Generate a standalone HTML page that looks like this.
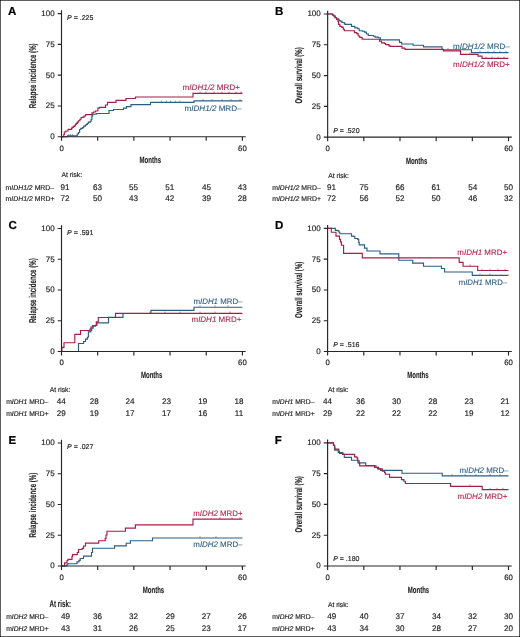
<!DOCTYPE html><html><head><meta charset="utf-8"><style>html,body{margin:0;padding:0;background:#fff;}svg{display:block;will-change:transform;}text{font-family:"Liberation Sans",sans-serif;fill:#222;stroke:#222;stroke-width:0.16;text-rendering:geometricPrecision;}.it{font-style:italic;}</style></head><body>
<svg width="520" height="637" viewBox="0 0 520 637">
<rect x="0" y="0" width="520" height="637" fill="#fff"/>
<g><path d="M61.5 136.75H67.5V135.9H77.3V134H78.5V132.5H79.6V129.5H80.8V128.4H82.5V127.6H83.7V126.1H85.4V125H86.5V124.4H87.4V123.5H88.3V122.1H90.4V121.2H91.2V119.2H91.9V115.8H92.7V114.2H96.2V113.5H109V110.5H113.5V109.5H123.5V108.1H126.5V106.6H131V104.6H150.5V102.4H194V100.9H242.4" fill="none" stroke="#2c5d85" stroke-width="1.15" stroke-linejoin="miter"/><path d="M68.7 135.9v-1.8M70.6 135.9v-1.8M72.4 135.9v-1.8M161.3 102.4v-1.8M166.5 102.4v-1.8M170.6 102.4v-1.8M175.2 102.4v-1.8M179.8 102.4v-1.8M203 100.9v-1.8M212 100.9v-1.8M222 100.9v-1.8M231 100.9v-1.8M240 100.9v-1.8" stroke="#2c5d85" stroke-width="0.6" fill="none"/><path d="M61.5 136.75H63.8V134.5H64.3V132H65.8V131H68V129.3H71.5V128.4H72.1V127.3H73.3V126.4H74.4V125.8H75.3V124.4H76.2V123.3H77.3V122.1H78.5V120.7H79.9V119.2H81.1V117.5H83.1V116.9H84.2V116H85.7V114.6H92V112.9H93.5V112H95.4V111H97.9V108.1H99.3V107.3H105.5V105H107.5V102.3H116V100.4H126V98.5H135.5V97H193V93.3H242.4" fill="none" stroke="#a51e46" stroke-width="1.15" stroke-linejoin="miter"/><path d="M200 93.3v-1.8M206 93.3v-1.8M214 93.3v-1.8M222 93.3v-1.8M229 93.3v-1.8M236 93.3v-1.8M241 93.3v-1.8" stroke="#a51e46" stroke-width="0.6" fill="none"/><path d="M61.5 10.25V140.75M61 136.75H245.7M57.7 13.55H61.5M57.7 44.35H61.5M57.7 75.15H61.5M57.7 105.95H61.5M57.7 136.75H61.5M97.68 136.75V140.75M133.86 136.75V140.75M170.04 136.75V140.75M206.22 136.75V140.75M242.4 136.75V140.75" stroke="#262626" stroke-width="1.15" fill="none"/><text x="54.6" y="16" font-size="8.0" text-anchor="end">100</text><text x="54.6" y="46.8" font-size="8.0" text-anchor="end">75</text><text x="54.6" y="77.6" font-size="8.0" text-anchor="end">50</text><text x="54.6" y="108.4" font-size="8.0" text-anchor="end">25</text><text x="54.6" y="139.2" font-size="8.0" text-anchor="end">0</text><text x="61.6" y="150.65" font-size="7.8" text-anchor="middle">0</text><text x="242.4" y="150.7" font-size="7.8" text-anchor="middle">60</text><text x="150.3" y="163.25" font-size="9.1" font-weight="bold" text-anchor="middle" textLength="21.4" lengthAdjust="spacingAndGlyphs" style="stroke-width:0.12">Months</text><text transform="translate(35.6 75.8) rotate(-90)" x="0" y="0" font-size="9.9" font-weight="bold" text-anchor="middle" textLength="64.9" lengthAdjust="spacingAndGlyphs" style="stroke-width:0.12">Relapse incidence (%)</text><text x="67.1" y="19.55" font-size="7.0"><tspan class="it">P</tspan> = .225</text><text x="8.1" y="14.8" font-size="11.5" font-weight="bold" style="fill:#000;stroke:#000;stroke-width:0.2">A</text><text x="182.6" y="90.4" font-size="8.0" textLength="57.45" lengthAdjust="spacingAndGlyphs" style="fill:#b02449;stroke:#b02449;stroke-width:0.1">m<tspan class="it">IDH1/2</tspan> MRD+</text><text x="184.5" y="111.4" font-size="8.0" textLength="57.05" lengthAdjust="spacingAndGlyphs" style="fill:#2c5d85;stroke:#2c5d85;stroke-width:0.1">m<tspan class="it">IDH1/2</tspan> MRD–</text><text x="61.5" y="177.4" font-size="6.9" textLength="20.6" lengthAdjust="spacingAndGlyphs">At risk:</text><text x="5.55" y="189.8" font-size="6.9" textLength="48.6" lengthAdjust="spacingAndGlyphs">m<tspan class="it">IDH1/2</tspan> MRD–</text><text x="5.55" y="201.3" font-size="6.9" textLength="48.9" lengthAdjust="spacingAndGlyphs">m<tspan class="it">IDH1/2</tspan> MRD+</text><text x="65.1" y="189.8" font-size="8.1" text-anchor="middle">91</text><text x="65.1" y="201.3" font-size="8.1" text-anchor="middle">72</text><text x="97.6" y="189.8" font-size="8.1" text-anchor="middle">63</text><text x="97.6" y="201.3" font-size="8.1" text-anchor="middle">50</text><text x="133.6" y="189.8" font-size="8.1" text-anchor="middle">55</text><text x="133.6" y="201.3" font-size="8.1" text-anchor="middle">43</text><text x="169.7" y="189.8" font-size="8.1" text-anchor="middle">51</text><text x="169.7" y="201.3" font-size="8.1" text-anchor="middle">42</text><text x="206.5" y="189.8" font-size="8.1" text-anchor="middle">45</text><text x="206.5" y="201.3" font-size="8.1" text-anchor="middle">39</text><text x="242.3" y="189.8" font-size="8.1" text-anchor="middle">43</text><text x="242.3" y="201.3" font-size="8.1" text-anchor="middle">28</text></g>
<g><path d="M327.65 13.95H332.5V15H333.7V16H335.1V17.7H336.6V19.1H339V20.5H340V21.1H341.9V22.5H344.3V23.9H345.2V24.4H351.5V26.3H354.8V27.8H357.7V28.75H359.2V30.7H362.5V31.2H364.5V32.1H366.4V34H368.3V35.5H373.5V36.2H375.2V37.1H378.1V37.7H380.4V39.8H399.5V42.3H401.7V44H413V45.2H423.5V46.9H442V49.7H471.5V52.6H508.5" fill="none" stroke="#2c5d85" stroke-width="1.15" stroke-linejoin="miter"/><path d="M448 49.7v-1.8M456 49.7v-1.8M480 52.6v-1.8M488 52.6v-1.8M494 52.6v-1.8M500 52.6v-1.8M506 52.6v-1.8" stroke="#2c5d85" stroke-width="0.6" fill="none"/><path d="M327.65 13.95H332.5V15H333.7V16H335.1V17.7H336.6V19.1H338V21.5H338.5V24.4H339.9V26.3H341.9V27.3H343.3V29.2H344.3V30.7H354.5V32.6H356.8V33.6H358.2V36H359.7V37.4H362.1V38.8H363V39.2H379.5V41.2H381.5V42.9H384.4V43.5H385.6V44.6H389V45.8H390.2V46.3H402V48.1H404.6V48.7H405.2V49.4H443.5V50.9H460.5V54.4H478V56.1H482V58.4H508.5" fill="none" stroke="#a51e46" stroke-width="1.15" stroke-linejoin="miter"/><path d="M470 54.4v-1.8M486 58.4v-1.8M492 58.4v-1.8M498 58.4v-1.8M504 58.4v-1.8" stroke="#a51e46" stroke-width="0.6" fill="none"/><path d="M327.65 10.65V141.15M327.15 137.15H511.8M323.85 13.95H327.65M323.85 44.75H327.65M323.85 75.55H327.65M323.85 106.35H327.65M323.85 137.15H327.65M363.82 137.15V141.15M399.99 137.15V141.15M436.16 137.15V141.15M472.33 137.15V141.15M508.5 137.15V141.15" stroke="#262626" stroke-width="1.15" fill="none"/><text x="320.75" y="16.4" font-size="8.0" text-anchor="end">100</text><text x="320.75" y="47.2" font-size="8.0" text-anchor="end">75</text><text x="320.75" y="78" font-size="8.0" text-anchor="end">50</text><text x="320.75" y="108.8" font-size="8.0" text-anchor="end">25</text><text x="320.75" y="139.6" font-size="8.0" text-anchor="end">0</text><text x="327.75" y="151.05" font-size="7.8" text-anchor="middle">0</text><text x="508.5" y="151.1" font-size="7.8" text-anchor="middle">60</text><text x="416.6" y="163.65" font-size="9.1" font-weight="bold" text-anchor="middle" textLength="21.4" lengthAdjust="spacingAndGlyphs" style="stroke-width:0.12">Months</text><text transform="translate(302.3 75.45) rotate(-90)" x="0" y="0" font-size="9.9" font-weight="bold" text-anchor="middle" textLength="56.3" lengthAdjust="spacingAndGlyphs" style="stroke-width:0.12">Overall survival (%)</text><text x="333.25" y="132.55" font-size="7.0"><tspan class="it">P</tspan> = .520</text><text x="274.9" y="14.9" font-size="11.5" font-weight="bold" style="fill:#000;stroke:#000;stroke-width:0.2">B</text><text x="453.1" y="48.5" font-size="8.0" textLength="56.7" lengthAdjust="spacingAndGlyphs" style="fill:#2c5d85;stroke:#2c5d85;stroke-width:0.1">m<tspan class="it">IDH1/2</tspan> MRD–</text><text x="453.1" y="67.4" font-size="8.0" textLength="56.7" lengthAdjust="spacingAndGlyphs" style="fill:#b02449;stroke:#b02449;stroke-width:0.1">m<tspan class="it">IDH1/2</tspan> MRD+</text><text x="328.2" y="177.5" font-size="6.9" textLength="20.6" lengthAdjust="spacingAndGlyphs">At risk:</text><text x="272.15" y="189.9" font-size="6.9" textLength="48.6" lengthAdjust="spacingAndGlyphs">m<tspan class="it">IDH1/2</tspan> MRD–</text><text x="272.15" y="201.4" font-size="6.9" textLength="48.9" lengthAdjust="spacingAndGlyphs">m<tspan class="it">IDH1/2</tspan> MRD+</text><text x="331.4" y="189.9" font-size="8.1" text-anchor="middle">91</text><text x="331.4" y="201.4" font-size="8.1" text-anchor="middle">72</text><text x="363.9" y="189.9" font-size="8.1" text-anchor="middle">75</text><text x="363.9" y="201.4" font-size="8.1" text-anchor="middle">56</text><text x="399.9" y="189.9" font-size="8.1" text-anchor="middle">66</text><text x="399.9" y="201.4" font-size="8.1" text-anchor="middle">52</text><text x="436" y="189.9" font-size="8.1" text-anchor="middle">61</text><text x="436" y="201.4" font-size="8.1" text-anchor="middle">50</text><text x="472.8" y="189.9" font-size="8.1" text-anchor="middle">54</text><text x="472.8" y="201.4" font-size="8.1" text-anchor="middle">46</text><text x="508.6" y="189.9" font-size="8.1" text-anchor="middle">50</text><text x="508.6" y="201.4" font-size="8.1" text-anchor="middle">32</text></g>
<g><path d="M61.5 351.5H78.5V343.5H83.6V341.5H85.5V339.1H87.4V337.2H88.4V331.9H90.8V330.5H91.7V328.1H93.2V326.2H95.6V325.2H97V322.8H108.5V317.3H123V313.5H151V310.4H194V307.2H242.4" fill="none" stroke="#2c5d85" stroke-width="1.15" stroke-linejoin="miter"/><path d="M200 307.2v-1.8M215 307.2v-1.8M228 307.2v-1.8" stroke="#2c5d85" stroke-width="0.6" fill="none"/><path d="M61.5 351.5H61.9V347.3H64V342.7H74.8V334.3H80.5V330.5H90V329H91V327H92.7V325.5H96.3V321.8H98.3V317.5H115.5V313.3H242.4" fill="none" stroke="#a51e46" stroke-width="1.15" stroke-linejoin="miter"/><path d="M150 313.3v-1.8M165 313.3v-1.8M180 313.3v-1.8M200 313.3v-1.8M215 313.3v-1.8M230 313.3v-1.8" stroke="#a51e46" stroke-width="0.6" fill="none"/><path d="M61.5 225.2V355.5M61 351.5H245.7M57.7 228.5H61.5M57.7 259.25H61.5M57.7 290H61.5M57.7 320.75H61.5M57.7 351.5H61.5M97.68 351.5V355.5M133.86 351.5V355.5M170.04 351.5V355.5M206.22 351.5V355.5M242.4 351.5V355.5" stroke="#262626" stroke-width="1.15" fill="none"/><text x="54.6" y="230.95" font-size="8.0" text-anchor="end">100</text><text x="54.6" y="261.7" font-size="8.0" text-anchor="end">75</text><text x="54.6" y="292.45" font-size="8.0" text-anchor="end">50</text><text x="54.6" y="323.2" font-size="8.0" text-anchor="end">25</text><text x="54.6" y="353.95" font-size="8.0" text-anchor="end">0</text><text x="61.6" y="365.4" font-size="7.8" text-anchor="middle">0</text><text x="242.4" y="365.45" font-size="7.8" text-anchor="middle">60</text><text x="151.7" y="378" font-size="9.1" font-weight="bold" text-anchor="middle" textLength="21.4" lengthAdjust="spacingAndGlyphs" style="stroke-width:0.12">Months</text><text transform="translate(35.6 290.65) rotate(-90)" x="0" y="0" font-size="9.9" font-weight="bold" text-anchor="middle" textLength="64.9" lengthAdjust="spacingAndGlyphs" style="stroke-width:0.12">Relapse incidence (%)</text><text x="67.1" y="234.5" font-size="7.0"><tspan class="it">P</tspan> = .591</text><text x="8.6" y="229.1" font-size="11.5" font-weight="bold" style="fill:#000;stroke:#000;stroke-width:0.2">C</text><text x="193.5" y="304.1" font-size="8.0" textLength="49" lengthAdjust="spacingAndGlyphs" style="fill:#2c5d85;stroke:#2c5d85;stroke-width:0.1">m<tspan class="it">IDH1</tspan> MRD–</text><text x="191.5" y="322.1" font-size="8.0" textLength="49.9" lengthAdjust="spacingAndGlyphs" style="fill:#b02449;stroke:#b02449;stroke-width:0.1">m<tspan class="it">IDH1</tspan> MRD+</text><text x="49.7" y="391.8" font-size="6.9" textLength="20.6" lengthAdjust="spacingAndGlyphs">At risk:</text><text x="6.15" y="404" font-size="6.9" textLength="42.2" lengthAdjust="spacingAndGlyphs">m<tspan class="it">IDH1</tspan> MRD–</text><text x="6.15" y="415.9" font-size="6.9" textLength="42.5" lengthAdjust="spacingAndGlyphs">m<tspan class="it">IDH1</tspan> MRD+</text><text x="61.25" y="404" font-size="8.1" text-anchor="middle">44</text><text x="61.25" y="415.9" font-size="8.1" text-anchor="middle">29</text><text x="94.2" y="404" font-size="8.1" text-anchor="middle">28</text><text x="94.2" y="415.9" font-size="8.1" text-anchor="middle">19</text><text x="130" y="404" font-size="8.1" text-anchor="middle">24</text><text x="130" y="415.9" font-size="8.1" text-anchor="middle">17</text><text x="166.5" y="404" font-size="8.1" text-anchor="middle">23</text><text x="166.5" y="415.9" font-size="8.1" text-anchor="middle">17</text><text x="202.7" y="404" font-size="8.1" text-anchor="middle">19</text><text x="202.7" y="415.9" font-size="8.1" text-anchor="middle">16</text><text x="239" y="404" font-size="8.1" text-anchor="middle">18</text><text x="239" y="415.9" font-size="8.1" text-anchor="middle">11</text></g>
<g><path d="M327.6 228.4H335.3V230.3H338V230.8H339V232.2H339.9V233.7H351.5V236.1H353.9V236.5H354.8V238.5H357.7V239.4H358.7V242.3H359.2V244.8H364.5V248.1H367V251H380V253.9H398.8V260.2H412.7V263.1H423.5V266.2H441.5V268.5H444.6V272H472.3V275.4H508.5" fill="none" stroke="#2c5d85" stroke-width="1.15" stroke-linejoin="miter"/><path d="M480 275.4v-1.8M490 275.4v-1.8" stroke="#2c5d85" stroke-width="0.6" fill="none"/><path d="M327.6 228.4H331.3V232.2H336V236.1H339.5V239.4H340.4V241.8H341.4V245.2H343.6V253.4H362.3V257.9H459.2V262.3H463.1V266.2H477.7V270.5H508.5" fill="none" stroke="#a51e46" stroke-width="1.15" stroke-linejoin="miter"/><path d="M470 266.2v-1.8M482 270.5v-1.8M490 270.5v-1.8M498 270.5v-1.8M505 270.5v-1.8" stroke="#a51e46" stroke-width="0.6" fill="none"/><path d="M327.6 225.1V355.5M327.1 351.5H511.8M323.8 228.4H327.6M323.8 259.18H327.6M323.8 289.95H327.6M323.8 320.73H327.6M323.8 351.5H327.6M363.78 351.5V355.5M399.96 351.5V355.5M436.14 351.5V355.5M472.32 351.5V355.5M508.5 351.5V355.5" stroke="#262626" stroke-width="1.15" fill="none"/><text x="320.7" y="230.85" font-size="8.0" text-anchor="end">100</text><text x="320.7" y="261.62" font-size="8.0" text-anchor="end">75</text><text x="320.7" y="292.4" font-size="8.0" text-anchor="end">50</text><text x="320.7" y="323.18" font-size="8.0" text-anchor="end">25</text><text x="320.7" y="353.95" font-size="8.0" text-anchor="end">0</text><text x="327.7" y="365.4" font-size="7.8" text-anchor="middle">0</text><text x="508.5" y="365.45" font-size="7.8" text-anchor="middle">60</text><text x="417.9" y="378" font-size="9.1" font-weight="bold" text-anchor="middle" textLength="21.4" lengthAdjust="spacingAndGlyphs" style="stroke-width:0.12">Months</text><text transform="translate(302.3 289.85) rotate(-90)" x="0" y="0" font-size="9.9" font-weight="bold" text-anchor="middle" textLength="56.3" lengthAdjust="spacingAndGlyphs" style="stroke-width:0.12">Overall survival (%)</text><text x="333.2" y="346.9" font-size="7.0"><tspan class="it">P</tspan> = .516</text><text x="274.9" y="229.4" font-size="11.5" font-weight="bold" style="fill:#000;stroke:#000;stroke-width:0.2">D</text><text x="457.3" y="254.8" font-size="8.0" textLength="49.8" lengthAdjust="spacingAndGlyphs" style="fill:#b02449;stroke:#b02449;stroke-width:0.1">m<tspan class="it">IDH1</tspan> MRD+</text><text x="458.7" y="285.1" font-size="8.0" textLength="48.4" lengthAdjust="spacingAndGlyphs" style="fill:#2c5d85;stroke:#2c5d85;stroke-width:0.1">m<tspan class="it">IDH1</tspan> MRD–</text><text x="327.9" y="392.2" font-size="6.9" textLength="20.6" lengthAdjust="spacingAndGlyphs">At risk:</text><text x="272.25" y="404.3" font-size="6.9" textLength="42.2" lengthAdjust="spacingAndGlyphs">m<tspan class="it">IDH1</tspan> MRD–</text><text x="272.25" y="416.3" font-size="6.9" textLength="42.5" lengthAdjust="spacingAndGlyphs">m<tspan class="it">IDH1</tspan> MRD+</text><text x="327.6" y="404.3" font-size="8.1" text-anchor="middle">44</text><text x="327.6" y="416.3" font-size="8.1" text-anchor="middle">29</text><text x="360.6" y="404.3" font-size="8.1" text-anchor="middle">36</text><text x="360.6" y="416.3" font-size="8.1" text-anchor="middle">22</text><text x="396.4" y="404.3" font-size="8.1" text-anchor="middle">30</text><text x="396.4" y="416.3" font-size="8.1" text-anchor="middle">22</text><text x="432.7" y="404.3" font-size="8.1" text-anchor="middle">28</text><text x="432.7" y="416.3" font-size="8.1" text-anchor="middle">22</text><text x="469" y="404.3" font-size="8.1" text-anchor="middle">23</text><text x="469" y="416.3" font-size="8.1" text-anchor="middle">19</text><text x="505.1" y="404.3" font-size="8.1" text-anchor="middle">21</text><text x="505.1" y="416.3" font-size="8.1" text-anchor="middle">12</text></g>
<g><path d="M61.5 566H66.5V565H67.7V563.75H77V561.8H79V560.4H80.2V558.5H83.5V556.1H91.5V552.5H92.5V548.2H114.6V545.8H126.2V543.2H130.4V540.7H152.5V538H242.4" fill="none" stroke="#2c5d85" stroke-width="1.15" stroke-linejoin="miter"/><path d="M200 538v-1.8M216 538v-1.8" stroke="#2c5d85" stroke-width="0.6" fill="none"/><path d="M61.5 566H64.5V562.8H67V560.5H68V559.4H72V556.5H72.5V554.6H77.3V552.5H78.5V549.5H82.1V548.4H83.6V546H85.5V543.1H98.7V540.7H105.2V538.5H106V535H107V531.2H125.4V528.1H135.4V524.9H193V519.1H242.4" fill="none" stroke="#a51e46" stroke-width="1.15" stroke-linejoin="miter"/><path d="M220 519.1v-1.8M232 519.1v-1.8M240 519.1v-1.8" stroke="#a51e46" stroke-width="0.6" fill="none"/><path d="M61.5 439.65V570M61 566H245.7M57.7 442.95H61.5M57.7 473.71H61.5M57.7 504.48H61.5M57.7 535.24H61.5M57.7 566H61.5M97.68 566V570M133.86 566V570M170.04 566V570M206.22 566V570M242.4 566V570" stroke="#262626" stroke-width="1.15" fill="none"/><text x="54.6" y="445.4" font-size="8.0" text-anchor="end">100</text><text x="54.6" y="476.16" font-size="8.0" text-anchor="end">75</text><text x="54.6" y="506.93" font-size="8.0" text-anchor="end">50</text><text x="54.6" y="537.69" font-size="8.0" text-anchor="end">25</text><text x="54.6" y="568.45" font-size="8.0" text-anchor="end">0</text><text x="61.6" y="579.9" font-size="7.8" text-anchor="middle">0</text><text x="242.4" y="579.95" font-size="7.8" text-anchor="middle">60</text><text x="153.5" y="592.5" font-size="9.1" font-weight="bold" text-anchor="middle" textLength="21.4" lengthAdjust="spacingAndGlyphs" style="stroke-width:0.12">Months</text><text transform="translate(35.6 505.12) rotate(-90)" x="0" y="0" font-size="9.9" font-weight="bold" text-anchor="middle" textLength="64.9" lengthAdjust="spacingAndGlyphs" style="stroke-width:0.12">Relapse incidence (%)</text><text x="67.1" y="448.95" font-size="7.0"><tspan class="it">P</tspan> = .027</text><text x="8.6" y="444.2" font-size="11.5" font-weight="bold" style="fill:#000;stroke:#000;stroke-width:0.2">E</text><text x="193.3" y="515.8" font-size="8.0" textLength="49.2" lengthAdjust="spacingAndGlyphs" style="fill:#b02449;stroke:#b02449;stroke-width:0.1">m<tspan class="it">IDH2</tspan> MRD+</text><text x="193.3" y="547.1" font-size="8.0" textLength="49.2" lengthAdjust="spacingAndGlyphs" style="fill:#2c5d85;stroke:#2c5d85;stroke-width:0.1">m<tspan class="it">IDH2</tspan> MRD–</text><text x="49.6" y="606.5" font-size="9.6" font-weight="bold" textLength="21.4" lengthAdjust="spacingAndGlyphs" style="stroke-width:0.12">At risk:</text><text x="6.15" y="618.5" font-size="6.9" textLength="42.2" lengthAdjust="spacingAndGlyphs">m<tspan class="it">IDH2</tspan> MRD–</text><text x="6.15" y="630.5" font-size="6.9" textLength="42.5" lengthAdjust="spacingAndGlyphs">m<tspan class="it">IDH2</tspan> MRD+</text><text x="65.4" y="618.5" font-size="8.1" text-anchor="middle">49</text><text x="65.4" y="630.5" font-size="8.1" text-anchor="middle">43</text><text x="97.6" y="618.5" font-size="8.1" text-anchor="middle">36</text><text x="97.6" y="630.5" font-size="8.1" text-anchor="middle">31</text><text x="133.6" y="618.5" font-size="8.1" text-anchor="middle">32</text><text x="133.6" y="630.5" font-size="8.1" text-anchor="middle">26</text><text x="170.2" y="618.5" font-size="8.1" text-anchor="middle">29</text><text x="170.2" y="630.5" font-size="8.1" text-anchor="middle">25</text><text x="206.3" y="618.5" font-size="8.1" text-anchor="middle">27</text><text x="206.3" y="630.5" font-size="8.1" text-anchor="middle">23</text><text x="242.3" y="618.5" font-size="8.1" text-anchor="middle">26</text><text x="242.3" y="630.5" font-size="8.1" text-anchor="middle">17</text></g>
<g><path d="M327.6 442.85H333.5V445.3H334.7V450.1H338.3V452.5H342.8V454.4H344.3V457.3H351.5V460.2H358V462.9H365.7V465.5H374.5V467.5H377.5V468.8H380.5V470.4H402V473.2H442.2V475.9H508.5" fill="none" stroke="#2c5d85" stroke-width="1.15" stroke-linejoin="miter"/><path d="M452 475.9v-1.8M465 475.9v-1.8M476 475.9v-1.8M490 475.9v-1.8M500 475.9v-1.8" stroke="#2c5d85" stroke-width="0.6" fill="none"/><path d="M327.6 442.85H333.5V445.3H334.5V447.7H335V449.1H338.8V451.5H339.5V453.5H342.8V454.3H354.6V456.8H356.8V457.8H357.7V460.7H359.2V463.6H359.7V465.8H376V467.3H378.5V468.8H382.3V471.2H384.6V472.7H385.4V474.2H389.6V477.3H401.5V479.6H403.8V481.2H405.4V483.5H450.5V486.3H482.2V489.6H508.5" fill="none" stroke="#a51e46" stroke-width="1.15" stroke-linejoin="miter"/><path d="M470 486.3v-1.8M490 489.6v-1.8M497 489.6v-1.8M503 489.6v-1.8" stroke="#a51e46" stroke-width="0.6" fill="none"/><path d="M327.6 439.55V570M327.1 566H511.8M323.8 442.85H327.6M323.8 473.64H327.6M323.8 504.43H327.6M323.8 535.21H327.6M323.8 566H327.6M363.78 566V570M399.96 566V570M436.14 566V570M472.32 566V570M508.5 566V570" stroke="#262626" stroke-width="1.15" fill="none"/><text x="320.7" y="445.3" font-size="8.0" text-anchor="end">100</text><text x="320.7" y="476.09" font-size="8.0" text-anchor="end">75</text><text x="320.7" y="506.88" font-size="8.0" text-anchor="end">50</text><text x="320.7" y="537.66" font-size="8.0" text-anchor="end">25</text><text x="320.7" y="568.45" font-size="8.0" text-anchor="end">0</text><text x="327.7" y="579.9" font-size="7.8" text-anchor="middle">0</text><text x="508.5" y="579.95" font-size="7.8" text-anchor="middle">60</text><text x="418.5" y="592.5" font-size="9.1" font-weight="bold" text-anchor="middle" textLength="21.4" lengthAdjust="spacingAndGlyphs" style="stroke-width:0.12">Months</text><text transform="translate(302.3 504.32) rotate(-90)" x="0" y="0" font-size="9.9" font-weight="bold" text-anchor="middle" textLength="56.3" lengthAdjust="spacingAndGlyphs" style="stroke-width:0.12">Overall survival (%)</text><text x="333.2" y="561.4" font-size="7.0"><tspan class="it">P</tspan> = .180</text><text x="274.7" y="444.2" font-size="11.5" font-weight="bold" style="fill:#000;stroke:#000;stroke-width:0.2">F</text><text x="459.5" y="472.5" font-size="8.0" textLength="49" lengthAdjust="spacingAndGlyphs" style="fill:#2c5d85;stroke:#2c5d85;stroke-width:0.1">m<tspan class="it">IDH2</tspan> MRD–</text><text x="457.5" y="498.8" font-size="8.0" textLength="49.9" lengthAdjust="spacingAndGlyphs" style="fill:#b02449;stroke:#b02449;stroke-width:0.1">m<tspan class="it">IDH2</tspan> MRD+</text><text x="327.9" y="607.2" font-size="6.9" textLength="20.6" lengthAdjust="spacingAndGlyphs">At risk:</text><text x="272.15" y="618.8" font-size="6.9" textLength="42.2" lengthAdjust="spacingAndGlyphs">m<tspan class="it">IDH2</tspan> MRD–</text><text x="272.15" y="630.8" font-size="6.9" textLength="42.5" lengthAdjust="spacingAndGlyphs">m<tspan class="it">IDH2</tspan> MRD+</text><text x="331.8" y="618.8" font-size="8.1" text-anchor="middle">49</text><text x="331.8" y="630.8" font-size="8.1" text-anchor="middle">43</text><text x="364" y="618.8" font-size="8.1" text-anchor="middle">40</text><text x="364" y="630.8" font-size="8.1" text-anchor="middle">34</text><text x="400" y="618.8" font-size="8.1" text-anchor="middle">37</text><text x="400" y="630.8" font-size="8.1" text-anchor="middle">30</text><text x="436.4" y="618.8" font-size="8.1" text-anchor="middle">34</text><text x="436.4" y="630.8" font-size="8.1" text-anchor="middle">28</text><text x="472.4" y="618.8" font-size="8.1" text-anchor="middle">32</text><text x="472.4" y="630.8" font-size="8.1" text-anchor="middle">27</text><text x="508.5" y="618.8" font-size="8.1" text-anchor="middle">30</text><text x="508.5" y="630.8" font-size="8.1" text-anchor="middle">20</text></g>
<rect x="0.5" y="0.5" width="519" height="636" fill="none" stroke="#5e5e5e" stroke-width="1"/>
<path d="M0 0h1v1h-1zM519 0h1v1h-1zM0 636h1v1h-1zM519 636h1v1h-1z" fill="#222"/>
</svg></body></html>
